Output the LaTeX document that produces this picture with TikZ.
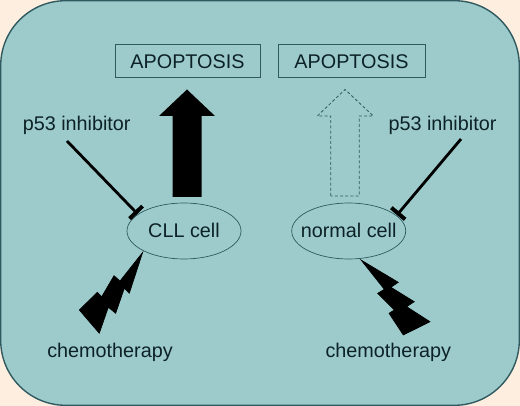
\documentclass[tikz,border=0pt]{standalone}
\usepackage{fontspec}
\setmainfont{Liberation Sans}
\usetikzlibrary{arrows.meta, shapes.geometric}
\definecolor{cellbg}{HTML}{9DCBCC}
\definecolor{outerbg}{HTML}{FDEEDF}
\definecolor{edgecol}{HTML}{2F5A60}
\definecolor{textcol}{HTML}{0C2226}
\tikzset{
	plaintext/.style={text=textcol, font=\fontsize{19.8pt}{22pt}\selectfont, inner sep=0pt},
	freetext/.style={plaintext, anchor=base},
	outcome/.style={plaintext, draw=edgecol, line width=1pt, minimum width=145pt, minimum height=33pt, text height=14pt, text depth=0pt},
	cell/.style={plaintext, draw=edgecol, line width=.7pt, ellipse, inner xsep=-14pt, minimum width=114pt, minimum height=56pt, text height=14pt, text depth=0pt},
	inhibit/.style={line width=2.8pt, black, shorten >=.5pt, -{Rectangle[length=4pt,width=18pt]}},
	bolt/.style={fill=black, draw=black, line width=.6pt},
	solidarrow/.style={fill=black},
	ghostarrow/.style={draw=edgecol, line width=.8pt, dash pattern=on 3pt off 2.2pt}
}
\begin{document}
\begin{tikzpicture}[x=1pt,y=-1pt]
	\useasboundingbox (0,0) rectangle (520,406);
	\fill[outerbg] (0,0) rectangle (520,406);
	\draw[edgecol, fill=cellbg, line width=1.4pt, rounded corners=65pt] (.7,.7) rectangle (519.3,405.3);

	% top row
	\node[outcome] (ApoptosisL) at (187.5,61.5) {APOPTOSIS};
	\node[outcome, minimum width=147pt] (ApoptosisR) at (351.5,61.5) {APOPTOSIS};

	% cells
	\node[cell] (CLL) at (184,231) {CLL cell};
	\node[cell] (Normal) at (348.7,231) {normal cell};

	% free labels
	\node[freetext] (InhibL) at (76.7,130.7) {p53 inhibitor};
	\node[freetext] (InhibR) at (442.5,130.7) {p53 inhibitor};
	\node[freetext] (ChemoL) at (110,357.5) {chemotherapy};
	\node[freetext] (ChemoR) at (388.3,357.5) {chemotherapy};

	% block arrows
	\fill[solidarrow] (172.7,197) -- (172.7,116) -- (159,116) -- (187,89.5) -- (215,116) -- (201.7,116) -- (201.7,197) -- cycle;
	\draw[ghostarrow] (330.7,196) -- (330.7,116) -- (317.3,116) -- (345,89.5) -- (373.3,116) -- (359.3,116) -- (359.3,196) -- cycle;

	% inhibition
	\coordinate (FromL) at (67,141);
	\coordinate (FromR) at (461,139);
	\draw[inhibit] (FromL) -- (CLL.160);
	\draw[inhibit] (FromR) -- (Normal.18);

	% lightning
	\fill[bolt] (142.7,252.3) -- (129.3,293.3) -- (124.3,288.3) -- (115.7,313.3) -- (108.3,307.3) -- (99.3,333.3) -- (79.3,310) -- (97.3,292.3) -- (101.7,296.7) -- (114,275.7) -- (120,281) -- cycle;
	\fill[bolt] (361,260) -- (398.3,282.3) -- (391,287.3) -- (414.3,301.7) -- (406.7,306.7) -- (430,321.7) -- (403.3,335) -- (389,313.3) -- (394.3,310) -- (377.7,293.3) -- (384.3,289.3) -- cycle;
\end{tikzpicture}
\end{document}
